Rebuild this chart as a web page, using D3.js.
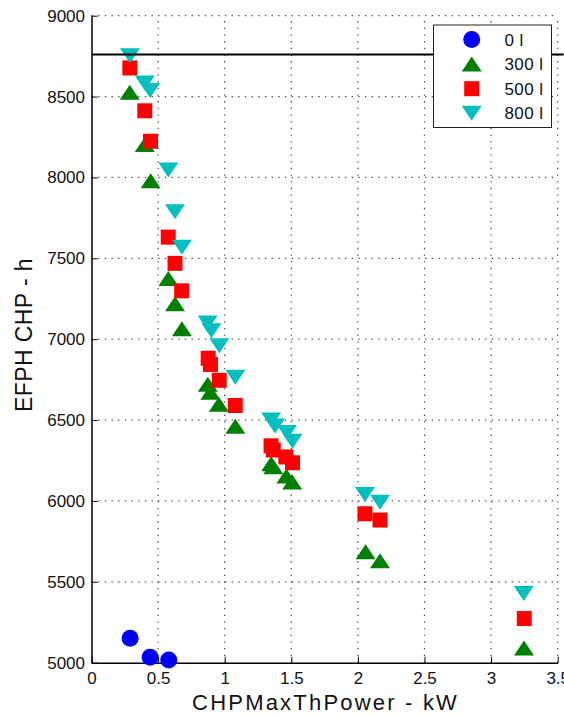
<!DOCTYPE html>
<html>
<head>
<meta charset="utf-8">
<script src="https://cdn.jsdelivr.net/npm/d3@7"></script>
<style>
  html, body { margin: 0; padding: 0; background: #fff; }
  svg { display: block; }
  text { font-family: "Liberation Sans", Arial, sans-serif; fill: #111; }
</style>
</head>
<body>
<svg id="chart" width="564" height="716"></svg>
<script>
// ---- data ----
const seriesNames = ["0 l", "300 l", "500 l", "800 l"];
const x0 = [0.29, 0.44, 0.58];
const y0 = [5151, 5034, 5017];
const x300 = [0.287, 0.40, 0.444, 0.577, 0.627, 0.679, 0.873, 0.892, 0.956, 1.08, 1.349, 1.365, 1.463, 1.507, 2.058, 2.166, 3.247];
const y300 = [8527, 8204, 7979, 7375, 7219, 7064, 6722, 6672, 6598, 6462, 6230, 6212, 6155, 6117, 5686, 5630, 5091];
const x500 = [0.288, 0.40, 0.443, 0.576, 0.627, 0.677, 0.876, 0.893, 0.959, 1.079, 1.348, 1.365, 1.459, 1.509, 2.053, 2.166, 3.249];
const y500 = [8677, 8412, 8224, 7631, 7469, 7299, 6882, 6844, 6746, 6590, 6341, 6315, 6272, 6236, 5921, 5882, 5273];
const x800 = [0.289, 0.40, 0.44, 0.577, 0.627, 0.679, 0.872, 0.90, 0.96, 1.08, 1.349, 1.378, 1.468, 1.509, 2.053, 2.166, 3.245];
const y800 = [8752, 8584, 8538, 8046, 7788, 7569, 7100, 7052, 6959, 6765, 6500, 6464, 6423, 6369, 6040, 5992, 5428];
const refLine = 8760;
const xTicks = [0, 0.5, 1, 1.5, 2, 2.5, 3, 3.5];
const yTicks = [5000, 5500, 6000, 6500, 7000, 7500, 8000, 8500, 9000];
const xLabel = "CHPMaxThPower - kW";
const yLabel = "EFPH CHP - h";

// ---- layout ----
const svg = d3.select("#chart");
const L = 91.5, R = 557.7, T = 15.7, B = 662.7;
const x = d3.scaleLinear().domain([0, 3.5]).range([L, R]);
const y = d3.scaleLinear().domain([5000, 9000]).range([B, T]);

// grid
const grid = svg.append("g").attr("stroke", "#444").attr("stroke-width", 1.2)
  .attr("stroke-dasharray", "1.3,5.37");
grid.selectAll("line.v").data(xTicks.filter(d => d > 0)).join("line")
  .attr("x1", d => x(d)).attr("x2", d => x(d)).attr("y1", B).attr("y2", T);
grid.selectAll("line.h").data(yTicks.filter(d => d > 5000)).join("line")
  .attr("x1", L).attr("x2", R).attr("y1", d => y(d)).attr("y2", d => y(d));

// axes
const fmt = d => d3.format("~g")(d);
const xAxis = d3.axisBottom(x).tickValues(xTicks).tickFormat(fmt).tickSizeInner(-6).tickSizeOuter(0).tickPadding(9);
const yAxis = d3.axisLeft(y).tickValues(yTicks).tickFormat(fmt).tickSizeInner(-6).tickSizeOuter(0).tickPadding(6.5);
const gx = svg.append("g").attr("transform", `translate(0,${B})`).call(xAxis);
const gy = svg.append("g").attr("transform", `translate(${L},0)`).call(yAxis);
[gx, gy].forEach(g => {
  g.select(".domain").attr("stroke", "#000").attr("stroke-width", 1.5);
  g.selectAll(".tick line").attr("stroke", "#000").attr("stroke-width", 1);
  g.selectAll(".tick text").attr("font-size", 17).attr("fill", "#111")
    .attr("font-family", "Liberation Sans, Arial, sans-serif");
});

// markers
const shapes = {
  circle: "M0,-8.5 A8.5,8.5 0 1,1 0,8.5 A8.5,8.5 0 1,1 0,-8.5 Z",
  up: "M0,-7.5 L10,7.5 L-10,7.5 Z",
  square: "M-7.5,-7.5 L7.5,-7.5 L7.5,7.5 L-7.5,7.5 Z",
  down: "M-10,-7.5 L10,-7.5 L0,7.5 Z"
};
const series = [
  { name: seriesNames[0], xs: x0, ys: y0, shape: "circle", color: "#0000ff" },
  { name: seriesNames[1], xs: x300, ys: y300, shape: "up", color: "#008000" },
  { name: seriesNames[2], xs: x500, ys: y500, shape: "square", color: "#ff0000" },
  { name: seriesNames[3], xs: x800, ys: y800, shape: "down", color: "#00bfbf" }
];
series.forEach(s => {
  svg.append("g").selectAll("path").data(s.xs.map((v, i) => [v, s.ys[i]])).join("path")
    .attr("d", shapes[s.shape])
    .attr("transform", d => `translate(${x(d[0])},${y(d[1])})`)
    .attr("fill", s.color);
});

// reference line
svg.append("line").attr("x1", L).attr("x2", R + 6).attr("y1", y(refLine)).attr("y2", y(refLine))
  .attr("stroke", "#000").attr("stroke-width", 2.2);

// legend
const lg = svg.append("g");
lg.append("rect").attr("x", 433.5).attr("y", 25).attr("width", 118).attr("height", 102.5)
  .attr("fill", "#fff").attr("stroke", "#222").attr("stroke-width", 1);
series.forEach((s, i) => {
  const cy = 39.5 + i * 24.6;
  lg.append("path").attr("d", shapes[s.shape]).attr("transform", `translate(471.7,${cy})`).attr("fill", s.color);
  lg.append("text").attr("x", 504.5).attr("y", cy).attr("dy", "0.36em")
    .attr("font-size", 17).attr("letter-spacing", 0.4).text(s.name);
});

// labels
svg.append("text").attr("x", (L + R) / 2 + 1).attr("y", 710).attr("text-anchor", "middle")
  .attr("font-size", 22).attr("letter-spacing", 2.2).text(xLabel);
svg.append("text").attr("transform", `translate(31.7,335) rotate(-90)`).attr("text-anchor", "middle")
  .attr("font-size", 23).attr("letter-spacing", 0.4).text(yLabel);
</script>
</body>
</html>
